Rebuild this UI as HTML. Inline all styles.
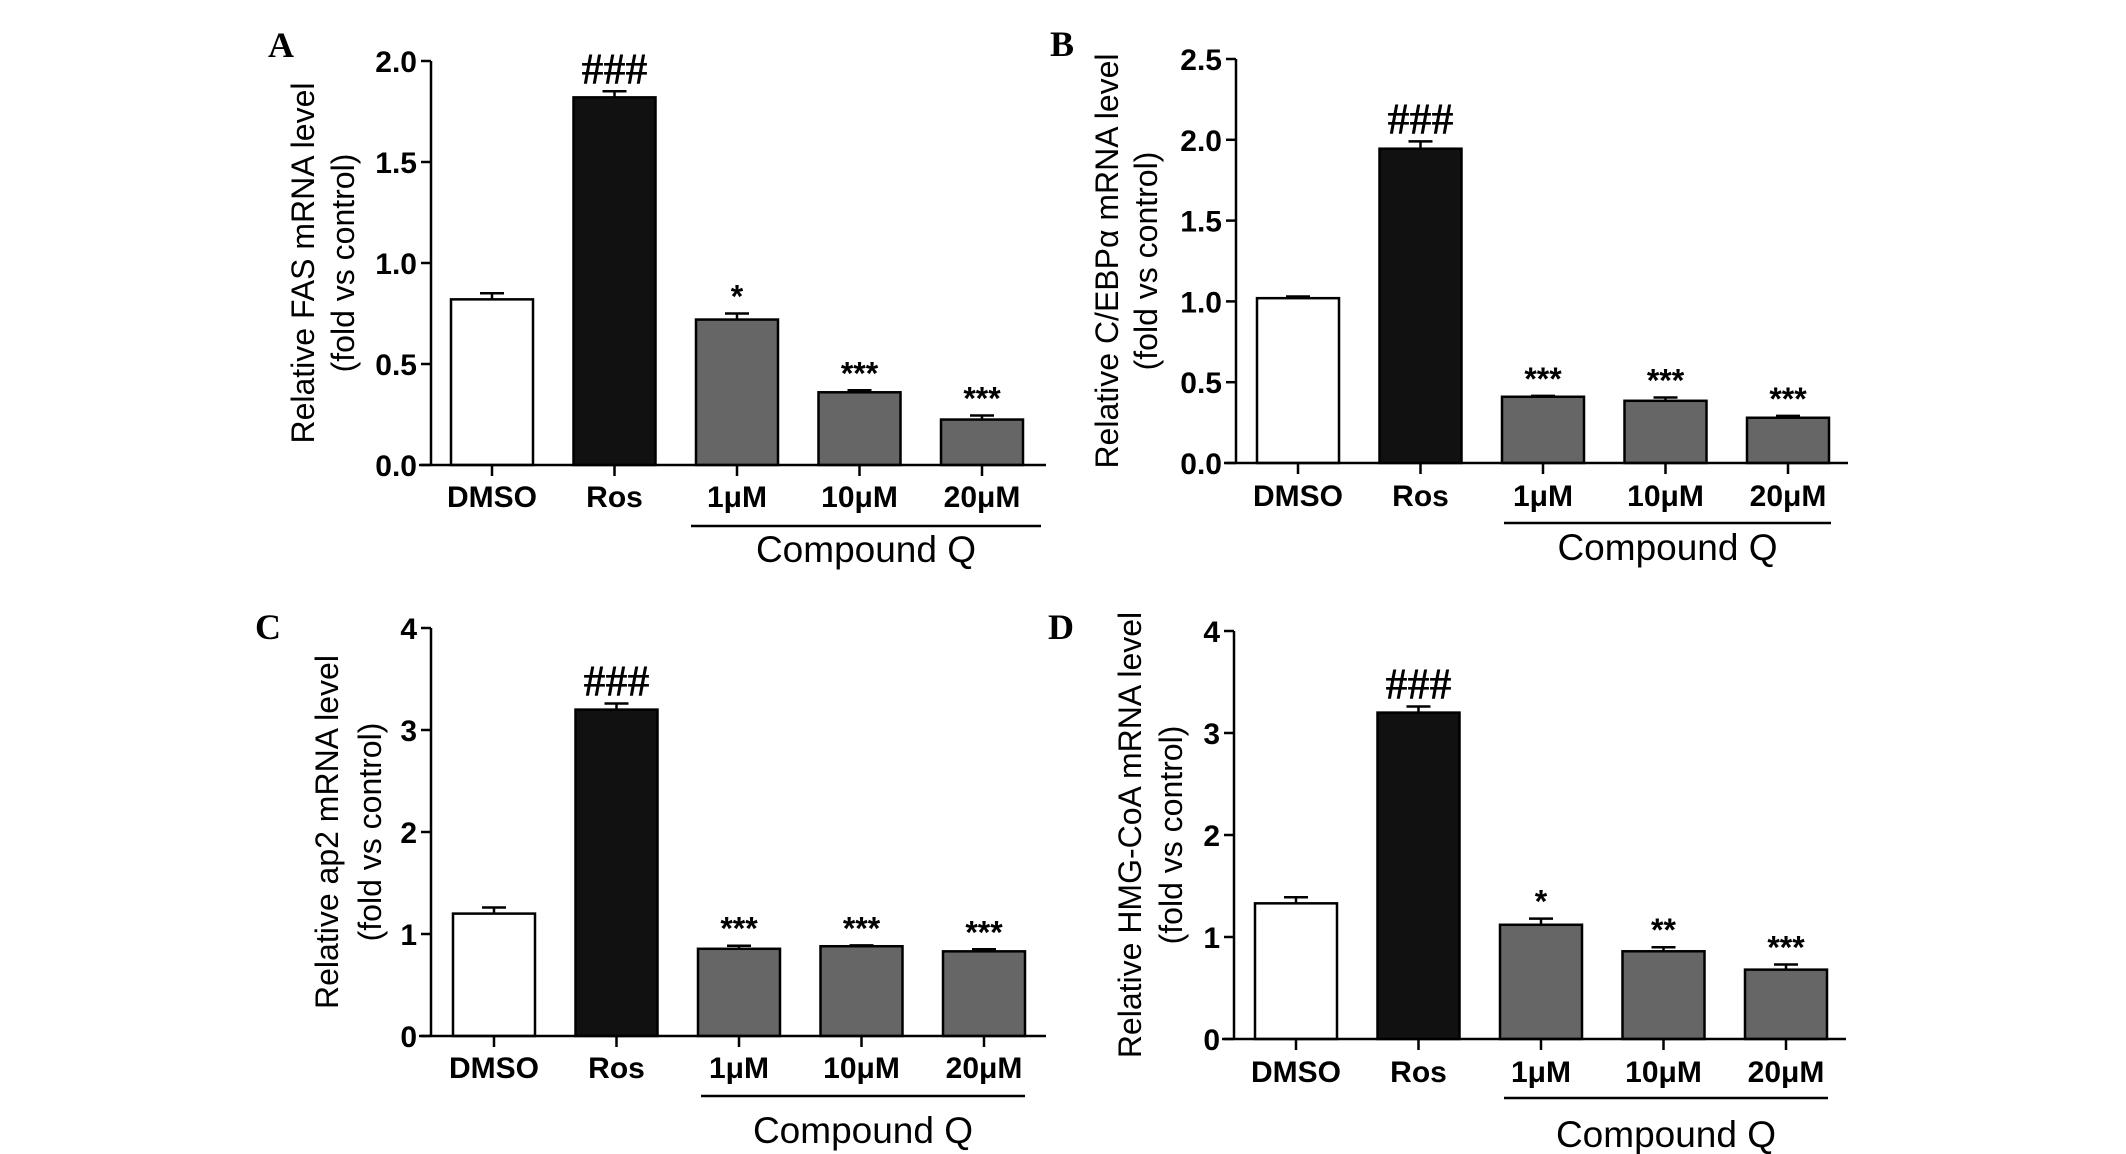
<!DOCTYPE html>
<html><head><meta charset="utf-8"><style>
html,body{margin:0;padding:0;background:#fff;}
svg{display:block;}
</style></head><body>
<svg id="fig" width="2126" height="1154" viewBox="0 0 2126 1154" xmlns="http://www.w3.org/2000/svg"></svg>
<script>
const categories = ["DMSO","Ros","1\u03bcM","10\u03bcM","20\u03bcM"];
const valuesA = [0.82,1.82,0.72,0.36,0.225];
const errorsA = [0.03,0.03,0.03,0.01,0.02];
const marksA = ["","###","*","***","***"];
const ticksA = ["0.0","0.5","1.0","1.5","2.0"];
const valuesB = [1.02,1.945,0.41,0.385,0.28];
const errorsB = [0.01,0.045,0.005,0.02,0.012];
const marksB = ["","###","***","***","***"];
const ticksB = ["0.0","0.5","1.0","1.5","2.0","2.5"];
const valuesC = [1.2,3.2,0.855,0.88,0.83];
const errorsC = [0.06,0.06,0.03,0.008,0.02];
const marksC = ["","###","***","***","***"];
const ticksC = ["0","1","2","3","4"];
const valuesD = [1.33,3.2,1.12,0.86,0.68];
const errorsD = [0.06,0.06,0.06,0.04,0.05];
const marksD = ["","###","*","**","***"];
const ticksD = ["0","1","2","3","4"];

const NS="http://www.w3.org/2000/svg";
const svg=document.getElementById('fig');
function mk(tag,attrs,parent){const e=document.createElementNS(NS,tag);for(const k in attrs)e.setAttribute(k,attrs[k]);(parent||svg).appendChild(e);return e;}

const panels=[
 {id:"a",label:"A",lx:268,ly:57,ax:431,y0:465,ytop:61,vmax:2.0,ticks:ticksA,values:valuesA,errors:errorsA,marks:marksA,c0:492,xr:1046,catY:507,lineY:526,lineX1:691,lineX2:1041,cqY:562,t1x:303,t2x:343,title:"Relative FAS mRNA level"},
 {id:"b",label:"B",lx:1050,ly:56,ax:1236,y0:463,ytop:59,vmax:2.5,ticks:ticksB,values:valuesB,errors:errorsB,marks:marksB,c0:1298,xr:1848,catY:506,lineY:523,lineX1:1504,lineX2:1831,cqY:560,t1x:1107,t2x:1146,title:"Relative C/EBP\u03b1 mRNA level"},
 {id:"c",label:"C",lx:255,ly:639,ax:431,y0:1036,ytop:628,vmax:4,ticks:ticksC,values:valuesC,errors:errorsC,marks:marksC,c0:494,xr:1046,catY:1078,lineY:1096,lineX1:701,lineX2:1025,cqY:1143,t1x:327,t2x:370,title:"Relative ap2 mRNA level"},
 {id:"d",label:"D",lx:1048,ly:639,ax:1234,y0:1039,ytop:631,vmax:4,ticks:ticksD,values:valuesD,errors:errorsD,marks:marksD,c0:1296,xr:1846,catY:1082,lineY:1098,lineX1:1504,lineX2:1828,cqY:1147,t1x:1130,t2x:1171,title:"Relative HMG-CoA mRNA level"}
];
const fills=["#ffffff","#111111","#666666","#666666","#666666"];
const step=122.5, bw=82;

panels.forEach(p=>{
 const g=mk('g',{});
 
 
 const yS=v=>p.y0-(v/p.vmax)*(p.y0-p.ytop);
 const xS=i=>p.c0+i*step;
 const lab=mk('text',{x:p.lx,y:p.ly,'font-family':'Liberation Serif, serif','font-weight':'bold','font-size':36},g);
 lab.textContent=p.label;
 
 
 const cy=(p.y0+p.ytop)/2;
 const t1=mk('text',{x:p.t1x,y:cy,'font-family':'Liberation Sans, sans-serif','font-size':32,'text-anchor':'middle',transform:`rotate(-90 ${p.t1x} ${cy})`,'dominant-baseline':'central'},g);
 t1.textContent=p.title;
 
 
 const t2=mk('text',{x:p.t2x,y:cy,'font-family':'Liberation Sans, sans-serif','font-size':32,'text-anchor':'middle',transform:`rotate(-90 ${p.t2x} ${cy})`,'dominant-baseline':'central'},g);
 t2.textContent="(fold vs control)";
 
 
 p.values.forEach((v,i)=>{
  const cx=xS(i), top=yS(v), et=yS(v+p.errors[i]);
  const eb=mk('line',{x1:cx,x2:cx,y1:top,y2:et,stroke:'#000','stroke-width':2.5},g);
  
  
  const cap=mk('line',{x1:cx-12,x2:cx+12,y1:et,y2:et,stroke:'#000','stroke-width':2.5},g);
  
  
  const r=mk('rect',{x:cx-bw/2,y:top,width:bw,height:p.y0-top,fill:fills[i],stroke:'#000','stroke-width':2.5},g);
  
  
  if(p.marks[i]){
   const isHash=p.marks[i].startsWith('#');
   const m=mk('text',{x:cx,y:isHash?et-8:et-6,'text-anchor':'middle','font-family':isHash?'Liberation Serif, serif':'Liberation Sans, sans-serif','font-weight':'bold','font-size':isHash?44:32},g);
   m.textContent=p.marks[i];
   
   
  }
  const tk=mk('line',{x1:cx,x2:cx,y1:p.y0,y2:p.y0+11,stroke:'#000','stroke-width':2.5},g);
  
  
  const cl=mk('text',{x:cx,y:p.catY,'text-anchor':'middle','font-family':'Liberation Sans, sans-serif','font-weight':'bold','font-size':30},g);
  cl.textContent=categories[i];
  
  
 });
 const ya=mk('line',{x1:p.ax,x2:p.ax,y1:p.ytop,y2:p.y0,stroke:'#000','stroke-width':2.5},g);
 
 
 const xa=mk('line',{x1:p.ax-12,x2:p.xr,y1:p.y0,y2:p.y0,stroke:'#000','stroke-width':2.5},g);
 
 
 p.ticks.forEach(t=>{
  const y=yS(parseFloat(t));
  const tl=mk('line',{x1:p.ax-10,x2:p.ax,y1:y,y2:y,stroke:'#000','stroke-width':2.5},g);
  
  
  const tt=mk('text',{x:p.ax-14,y:y+11,'text-anchor':'end','font-family':'Liberation Sans, sans-serif','font-weight':'bold','font-size':30},g);
  tt.textContent=t;
  
  
 });
 const gl=mk('line',{x1:p.lineX1,x2:p.lineX2,y1:p.lineY,y2:p.lineY,stroke:'#000','stroke-width':2.5},g);
 
 
 const cq=mk('text',{x:(p.lineX1+p.lineX2)/2,y:p.cqY,'text-anchor':'middle','font-family':'Liberation Sans, sans-serif','font-size':37},g);
 cq.textContent="Compound Q";
 
 
});
</script>
</body></html>
